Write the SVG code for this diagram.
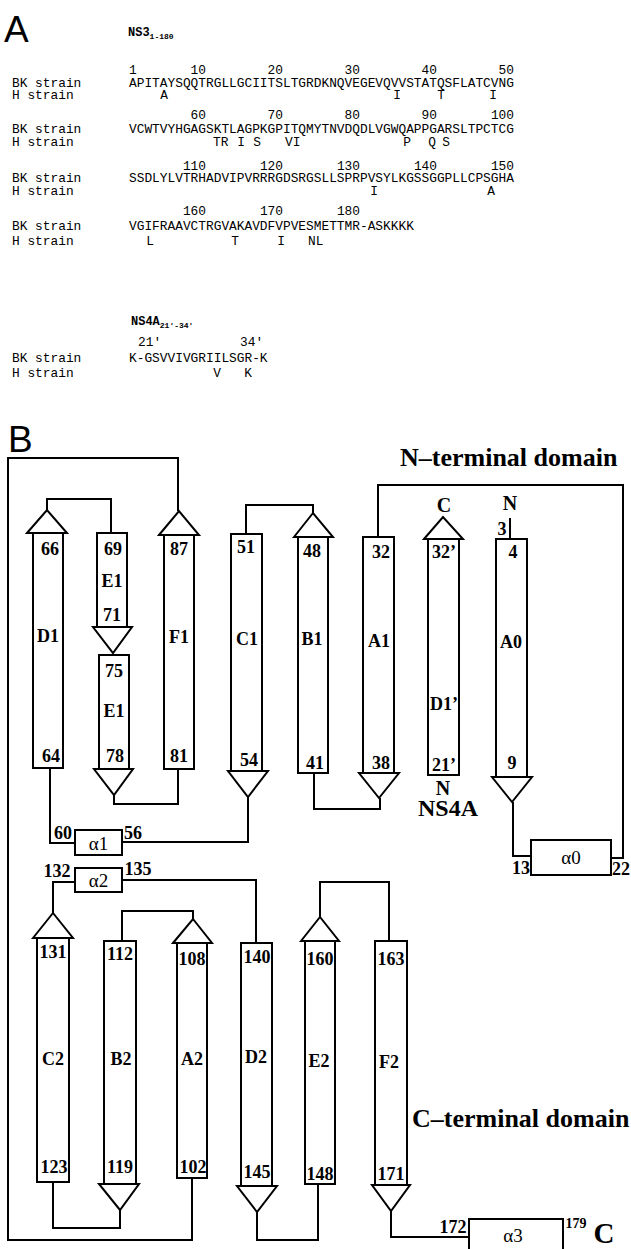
<svg xmlns="http://www.w3.org/2000/svg" width="631" height="1249" viewBox="0 0 631 1249">
<style>
.m{font-family:"Liberation Mono","DejaVu Sans Mono",monospace;font-size:12.83px;fill:#000}
.e{text-anchor:end}
.mid{text-anchor:middle}
.hdr{font-family:"Liberation Mono","DejaVu Sans Mono",monospace;font-weight:bold;font-size:12px}
.sub{font-size:8px}
.big{font-family:"Liberation Sans",Arial,sans-serif;font-size:37px}
.l{font-family:"Liberation Serif","Times New Roman",serif;font-weight:bold;font-size:18px;text-anchor:middle}
.dom{font-family:"Liberation Serif","Times New Roman",serif;font-weight:bold;font-size:26px}
.hx{font-family:"Liberation Serif","Times New Roman",serif;font-size:19px;text-anchor:middle}
.s{fill:#fff;stroke:#000;stroke-width:2}
.c{fill:none;stroke:#000;stroke-width:2}
</style>
<rect x="0" y="0" width="631" height="1249" fill="#fff"/>

<!-- Panel A -->
<g id="panelA">
<text class="big" x="4" y="42">A</text>
<text class="hdr" x="128" y="36">NS3<tspan class="sub" dy="3">1-180</tspan></text>
<text class="m" x="129" y="74">1</text>
<text class="m e" x="206" y="74">10</text><text class="m e" x="283" y="74">20</text><text class="m e" x="360" y="74">30</text><text class="m e" x="437" y="74">40</text><text class="m e" x="514" y="74">50</text>
<text class="m" x="12" y="87">BK strain</text>
<text class="m" x="129" y="87">APITAYSQQTRGLLGCIITSLTGRDKNQVEGEVQVVSTATQSFLATCVNG</text>
<text class="m" x="12" y="99">H strain</text>
<text class="m mid" x="164" y="99">A</text><text class="m mid" x="397" y="99">I</text><text class="m mid" x="441" y="99">T</text><text class="m mid" x="493" y="99">I</text>

<text class="m e" x="206" y="119">60</text><text class="m e" x="283" y="119">70</text><text class="m e" x="360" y="119">80</text><text class="m e" x="437" y="119">90</text><text class="m e" x="514" y="119">100</text>
<text class="m" x="12" y="133">BK strain</text>
<text class="m" x="129" y="133">VCWTVYHGAGSKTLAGPKGPITQMYTNVDQDLVGWQAPPGARSLTPCTCG</text>
<text class="m" x="12" y="146">H strain</text>
<text class="m" x="213" y="146">TR</text><text class="m mid" x="241" y="146">I</text><text class="m mid" x="257" y="146">S</text><text class="m" x="285" y="146">VI</text><text class="m mid" x="407" y="146">P</text><text class="m mid" x="432" y="146">Q</text><text class="m mid" x="446" y="146">S</text>

<text class="m e" x="206" y="170">110</text><text class="m e" x="283" y="170">120</text><text class="m e" x="360" y="170">130</text><text class="m e" x="437" y="170">140</text><text class="m e" x="514" y="170">150</text>
<text class="m" x="12" y="182">BK strain</text>
<text class="m" x="129" y="182">SSDLYLVTRHADVIPVRRRGDSRGSLLSPRPVSYLKGSSGGPLLCPSGHA</text>
<text class="m" x="12" y="195">H strain</text>
<text class="m mid" x="374" y="195">I</text><text class="m mid" x="491" y="195">A</text>

<text class="m e" x="206" y="215">160</text><text class="m e" x="283" y="215">170</text><text class="m e" x="360" y="215">180</text>
<text class="m" x="12" y="230">BK strain</text>
<text class="m" x="129" y="230">VGIFRAAVCTRGVAKAVDFVPVESMETTMR-ASKKKK</text>
<text class="m" x="12" y="245">H strain</text>
<text class="m mid" x="150" y="245">L</text><text class="m mid" x="235" y="245">T</text><text class="m mid" x="281" y="245">I</text><text class="m" x="308" y="245">NL</text>

<text class="hdr" x="131" y="325">NS4A<tspan class="sub" dy="3">21′-34′</tspan></text>
<text class="m" x="138" y="346">21′</text><text class="m" x="240" y="346">34′</text>
<text class="m" x="12" y="362">BK strain</text>
<text class="m" x="129" y="362">K-GSVVIVGRIILSGR-K</text>
<text class="m" x="12" y="377">H strain</text>
<text class="m mid" x="217" y="377">V</text><text class="m mid" x="248" y="377">K</text>
</g>

<!-- Panel B -->
<text class="big" x="8" y="452">B</text>
<text class="dom" x="400" y="466">N–terminal domain</text>
<text class="dom" x="412" y="1127">C–terminal domain</text>

<g id="connectors">
<polyline class="c" points="192,1178 192,1240 8,1240 8,458 178,458 178,511"/>
<polyline class="c" points="47,510 47,499 111,499 111,533"/>
<polyline class="c" points="114,795 114,804 178,804 178,769"/>
<polyline class="c" points="246,534 246,505 313,505 313,513"/>
<polyline class="c" points="314,773 314,809 380,809 380,798"/>
<polyline class="c" points="378,537 378,485 623,485 623,858 611,858"/>
<polyline class="c" points="531,856 513,856 513,802"/>
<polyline class="c" points="510,518 510,539"/>
<polyline class="c" points="248,797 248,842 122,842"/>
<polyline class="c" points="75,843 50,843 50,768"/>
<polyline class="c" points="122,880 256,880 256,943"/>
<polyline class="c" points="75,882 53,882 53,913"/>
<polyline class="c" points="53,1182 53,1228 120,1228 120,1210"/>
<polyline class="c" points="122,941 122,911 193,911 193,919"/>
<polyline class="c" points="257,1212 257,1240 318,1240 318,1184"/>
<polyline class="c" points="320,917 320,882 389,882 389,941"/>
<polyline class="c" points="391,1211 391,1237 469,1237"/>
</g>

<g id="D1"><rect class="s" x="33" y="533" width="30" height="235"/><polygon class="s" points="27,533 47,510 67,533"/>
<text class="l" x="50" y="555">66</text><text class="l" x="48" y="642">D1</text><text class="l" x="51" y="762">64</text></g>
<g id="E1a"><rect class="s" x="97" y="533" width="30" height="94"/><polygon class="s" points="93,627 132,627 113,653"/>
<text class="l" x="113" y="555">69</text><text class="l" x="112" y="587">E1</text><text class="l" x="112" y="621">71</text></g>
<g id="E1b"><rect class="s" x="99" y="655" width="30" height="114"/><polygon class="s" points="94,769 133,769 114,795"/>
<text class="l" x="114" y="677">75</text><text class="l" x="114" y="717">E1</text><text class="l" x="115" y="762">78</text></g>
<g id="F1"><rect class="s" x="164" y="535" width="30" height="234"/><polygon class="s" points="159,535 179,511 199,535"/>
<text class="l" x="179" y="555">87</text><text class="l" x="179" y="643">F1</text><text class="l" x="179" y="762">81</text></g>
<g id="C1"><rect class="s" x="231" y="534" width="31" height="237"/><polygon class="s" points="228,771 268,771 248,797"/>
<text class="l" x="246" y="553">51</text><text class="l" x="247" y="645">C1</text><text class="l" x="249" y="766">54</text></g>
<g id="B1"><rect class="s" x="298" y="537" width="30" height="236"/><polygon class="s" points="294,537 313,513 333,537"/>
<text class="l" x="312" y="557">48</text><text class="l" x="312" y="645">B1</text><text class="l" x="315" y="769">41</text></g>
<g id="A1"><rect class="s" x="363" y="537" width="31" height="236"/><polygon class="s" points="359,773 399,773 379,798"/>
<text class="l" x="381" y="558">32</text><text class="l" x="379" y="647">A1</text><text class="l" x="381" y="769">38</text></g>
<g id="NS4A"><rect class="s" x="428" y="539" width="31" height="236"/><polygon class="s" points="424,539 443,517 463,539"/>
<text class="l" x="444" y="558">32’</text><text class="l" x="444" y="710">D1’</text><text class="l" x="444" y="771">21’</text>
<text class="l" x="444" y="512" style="font-size:20px">C</text><text class="l" x="443" y="795" style="font-size:20px">N</text>
<text class="l" x="448" y="816" style="font-size:24px">NS4A</text></g>
<g id="A0"><rect class="s" x="496" y="539" width="31" height="238"/><polygon class="s" points="492,777 532,777 512,802"/>
<text class="l" x="513" y="558">4</text><text class="l" x="511" y="648">A0</text><text class="l" x="512" y="769">9</text>
<text class="l" x="510" y="510" style="font-size:20px">N</text><text class="l" x="502" y="535">3</text></g>

<g id="alpha1"><rect class="s" x="75" y="830" width="47" height="25"/><text class="hx" x="98.5" y="850">α1</text>
<text class="l" x="63" y="839">60</text><text class="l" x="133" y="839">56</text></g>
<g id="alpha2"><rect class="s" x="75" y="868" width="47" height="24"/><text class="hx" x="98.5" y="887">α2</text>
<text class="l" x="57" y="877">132</text><text class="l" x="138" y="875">135</text></g>
<g id="alpha0"><rect class="s" x="531" y="840" width="80" height="35"/><text class="hx" x="571" y="864">α0</text>
<text class="l" x="521" y="874">13</text><text class="l" x="621" y="875">22</text></g>

<g id="C2"><rect class="s" x="37" y="938" width="32" height="244"/><polygon class="s" points="33,938 53,913 73,938"/>
<text class="l" x="53" y="958">131</text><text class="l" x="53" y="1065">C2</text><text class="l" x="54" y="1173">123</text></g>
<g id="B2"><rect class="s" x="104" y="941" width="32" height="243"/><polygon class="s" points="99,1184 139,1184 120,1210"/>
<text class="l" x="120" y="960">112</text><text class="l" x="121" y="1065">B2</text><text class="l" x="120" y="1173">119</text></g>
<g id="A2"><rect class="s" x="177" y="943" width="30" height="235"/><polygon class="s" points="173,943 193,919 212,943"/>
<text class="l" x="192" y="965">108</text><text class="l" x="192" y="1065">A2</text><text class="l" x="193" y="1173">102</text></g>
<g id="D2"><rect class="s" x="241" y="943" width="31" height="243"/><polygon class="s" points="237,1186 277,1186 257,1212"/>
<text class="l" x="257" y="963">140</text><text class="l" x="256" y="1063">D2</text><text class="l" x="257" y="1178">145</text></g>
<g id="E2"><rect class="s" x="305" y="941" width="30" height="243"/><polygon class="s" points="301,941 320,917 339,941"/>
<text class="l" x="320" y="965">160</text><text class="l" x="319" y="1067">E2</text><text class="l" x="320" y="1180">148</text></g>
<g id="F2"><rect class="s" x="375" y="941" width="32" height="244"/><polygon class="s" points="372,1185 410,1185 391,1211"/>
<text class="l" x="391" y="965">163</text><text class="l" x="389" y="1068">F2</text><text class="l" x="391" y="1180">171</text></g>
<g id="alpha3"><rect class="s" x="469" y="1219" width="94" height="40"/><text class="hx" x="513" y="1242">α3</text>
<text class="l" x="453" y="1233">172</text><text class="l" x="576" y="1228" style="font-size:14px">179</text>
<text class="l" x="604" y="1243" style="font-size:29px">C</text></g>
</svg>
